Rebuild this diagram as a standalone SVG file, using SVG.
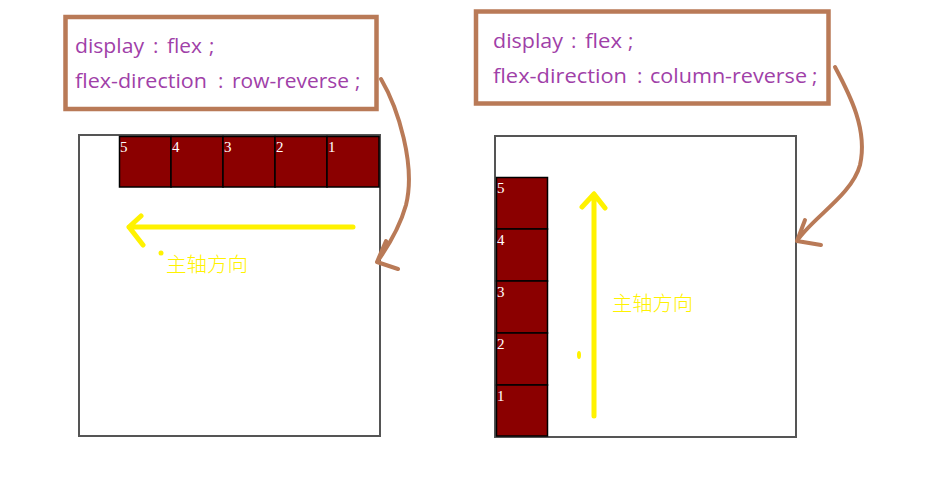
<svg xmlns="http://www.w3.org/2000/svg" width="937" height="489" viewBox="0 0 937 489">
<style>
.code{font-family:"Open Sans","Noto Sans CJK SC",sans-serif;font-size:20.5px;fill:#a040a8}
.codebox{fill:#fff;stroke:#b97a57;stroke-width:4.5}
.cont{fill:#fff;stroke:#555;stroke-width:2}
.item{fill:#8b0000;stroke:#000;stroke-width:1.5}
.num{font-family:"Liberation Serif",serif;font-size:15px;fill:#fff}
.ylw{fill:none;stroke:#fff200;stroke-width:5;stroke-linecap:round;stroke-linejoin:round}
.brn{fill:none;stroke:#b97a57;stroke-width:4;stroke-linecap:round;stroke-linejoin:round}
.lbl{font-family:"Noto Sans CJK SC",sans-serif;font-size:20px;font-weight:300;fill:#fff200}
</style>
<rect width="937" height="489" fill="#fff"/>
<g id="code-left">
<rect class="codebox" x="65.5" y="17" width="311" height="92"/>
<text class="code" y="53"><tspan x="75" textLength="69" lengthAdjust="spacingAndGlyphs">display</tspan> <tspan x="153">:</tspan> <tspan x="167" textLength="35" lengthAdjust="spacingAndGlyphs">flex</tspan> <tspan x="209">;</tspan></text>
<text class="code" y="88"><tspan x="75" textLength="132" lengthAdjust="spacingAndGlyphs">flex-direction</tspan> <tspan x="218">:</tspan> <tspan x="232" textLength="117" lengthAdjust="spacingAndGlyphs">row-reverse</tspan> <tspan x="355">;</tspan></text>
</g>
<g id="code-right">
<rect class="codebox" x="476" y="11.5" width="352.5" height="92"/>
<text class="code" y="48"><tspan x="493" textLength="70" lengthAdjust="spacingAndGlyphs">display</tspan> <tspan x="571">:</tspan> <tspan x="585" textLength="37" lengthAdjust="spacingAndGlyphs">flex</tspan> <tspan x="628">;</tspan></text>
<text class="code" y="83"><tspan x="493" textLength="134" lengthAdjust="spacingAndGlyphs">flex-direction</tspan> <tspan x="637">:</tspan> <tspan x="650" textLength="157" lengthAdjust="spacingAndGlyphs">column-reverse</tspan> <tspan x="812">;</tspan></text>
</g>
<g id="container-left">
<rect class="cont" x="79" y="135" width="301" height="301"/>
<rect class="item" x="119.5" y="136.5" width="51.5" height="50.5"/>
<rect class="item" x="171" y="136.5" width="52" height="50.5"/>
<rect class="item" x="223" y="136.5" width="52" height="50.5"/>
<rect class="item" x="275" y="136.5" width="52" height="50.5"/>
<rect class="item" x="327" y="136.5" width="52" height="50.5"/>
<text class="num" x="120" y="152">5</text>
<text class="num" x="172" y="152">4</text>
<text class="num" x="224" y="152">3</text>
<text class="num" x="276" y="152">2</text>
<text class="num" x="328" y="152">1</text>
</g>
<g id="container-right">
<rect class="cont" x="495" y="136" width="301" height="301"/>
<rect class="item" x="496.5" y="177.5" width="51" height="51.5"/>
<rect class="item" x="496.5" y="229" width="51" height="52"/>
<rect class="item" x="496.5" y="281" width="51" height="52"/>
<rect class="item" x="496.5" y="333" width="51" height="52"/>
<rect class="item" x="496.5" y="385" width="51" height="51"/>
<text class="num" x="497" y="193">5</text>
<text class="num" x="497" y="245">4</text>
<text class="num" x="497" y="297">3</text>
<text class="num" x="497" y="349">2</text>
<text class="num" x="497" y="401">1</text>
</g>
<g id="axis-left">
<path class="ylw" d="M353,227 L129,227 M129,227 L141,216 M129,227 L143,245"/>
<circle cx="161" cy="253" r="2.5" fill="#fff200"/>
<text class="lbl" x="166" y="272" textLength="82" lengthAdjust="spacingAndGlyphs">主轴方向</text>
</g>
<g id="axis-right">
<path class="ylw" d="M594,416 L594,194 M594,194 L582,207 M594,194 L605,208"/>
<ellipse cx="579" cy="355" rx="2" ry="4" fill="#fff200"/>
<text class="lbl" x="612" y="311" textLength="81" lengthAdjust="spacingAndGlyphs">主轴方向</text>
</g>
<g id="connectors">
<path class="brn" d="M381,79 C398,108 416,165 406,205 C399,230 387,248 377,262 M377,262 L386,241 M377,262 L398,269"/>
<path class="brn" d="M835,67 C850,95 868,130 860,165 C852,195 812,218 797,241 M797,241 L805,220 M797,241 L821,245"/>
</g>
</svg>
